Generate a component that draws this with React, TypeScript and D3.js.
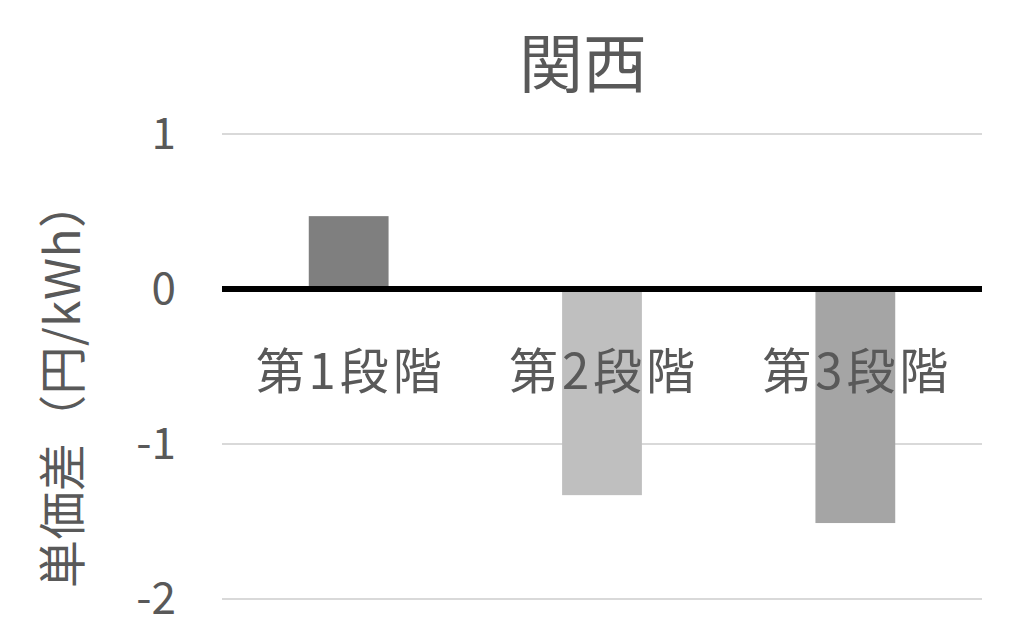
import { useEffect, useRef } from 'react';
import * as d3 from 'd3';

const TITLE = '関西';
const Y_LABEL = '単価差（円/kWh）';
const CATEGORIES = ['第1段階', '第2段階', '第3段階'];
const VALUES = [0.47, -1.33, -1.51];
const BAR_COLORS = ['#7f7f7f', '#bfbfbf', '#a5a5a5'];
const Y_TICKS = [1, 0, -1, -2];

const W = 1024;
const H = 641;
const MARGIN = { top: 134, right: 42, bottom: 42, left: 222 };
const FONT = '"Noto Sans CJK JP", "Noto Sans", sans-serif';
const TEXT = '#595959';

export default function App() {
  const svgRef = useRef<SVGSVGElement>(null);

  useEffect(() => {
    if (!svgRef.current) return;
    const svg = d3.select(svgRef.current);
    svg.selectAll('*').remove();

    const x = d3
      .scaleBand<string>()
      .domain(CATEGORIES)
      .range([MARGIN.left, W - MARGIN.right])
      .paddingInner(0.685)
      .paddingOuter(0.3425);

    const y = d3.scaleLinear().domain([-2, 1]).range([H - MARGIN.bottom, MARGIN.top]);

    svg.append('rect').attr('width', W).attr('height', H).attr('fill', '#fff');

    // Gridlines
    svg
      .append('g')
      .selectAll('line')
      .data(Y_TICKS.filter((t) => t !== 0))
      .join('line')
      .attr('x1', MARGIN.left)
      .attr('x2', W - MARGIN.right)
      .attr('y1', (d) => y(d))
      .attr('y2', (d) => y(d))
      .attr('stroke', '#d9d9d9')
      .attr('stroke-width', 2);

    // Tick labels
    svg
      .append('g')
      .selectAll('text')
      .data(Y_TICKS)
      .join('text')
      .attr('x', 176)
      .attr('y', (d) => y(d))
      .attr('dy', '0.35em')
      .attr('text-anchor', 'end')
      .attr('font-family', FONT)
      .attr('font-size', 44)
      .attr('fill', TEXT)
      .text((d) => String(d));

    // Bars
    svg
      .append('g')
      .selectAll('rect')
      .data(VALUES)
      .join('rect')
      .attr('x', (_, i) => x(CATEGORIES[i])!)
      .attr('width', x.bandwidth())
      .attr('y', (d) => y(Math.max(0, d)))
      .attr('height', (d) => Math.abs(y(d) - y(0)))
      .attr('fill', (_, i) => BAR_COLORS[i]);

    // Zero axis
    svg
      .append('line')
      .attr('x1', MARGIN.left)
      .attr('x2', W - MARGIN.right)
      .attr('y1', y(0))
      .attr('y2', y(0))
      .attr('stroke', '#000')
      .attr('stroke-width', 6);

    // Category labels
    svg
      .append('g')
      .selectAll('text')
      .data(CATEGORIES)
      .join('text')
      .attr('x', (d) => x(d)! + x.bandwidth() / 2)
      .attr('y', 372)
      .attr('dy', '0.35em')
      .attr('text-anchor', 'middle')
      .attr('font-family', FONT)
      .attr('font-size', 49)
      .attr('textLength', 186)
      .attr('lengthAdjust', 'spacing')
      .attr('fill', TEXT)
      .text((d) => d);

    // Title
    svg
      .append('text')
      .attr('x', 583)
      .attr('y', 65)
      .attr('dy', '0.35em')
      .attr('text-anchor', 'middle')
      .attr('font-family', FONT)
      .attr('font-size', 64)
      .attr('fill', TEXT)
      .text(TITLE);

    // Y axis label
    svg
      .append('text')
      .attr('transform', `translate(63, ${(180 + 588) / 2}) rotate(-90)`)
      .attr('dy', '0.35em')
      .attr('text-anchor', 'middle')
      .attr('font-family', FONT)
      .attr('font-size', 48)
      .attr('textLength', 408)
      .attr('lengthAdjust', 'spacing')
      .attr('fill', TEXT)
      .text(Y_LABEL);
  }, []);

  return (
    <svg
      ref={svgRef}
      width={W}
      height={H}
      style={{ position: 'absolute', left: 0, top: 0, display: 'block' }}
    />
  );
}
